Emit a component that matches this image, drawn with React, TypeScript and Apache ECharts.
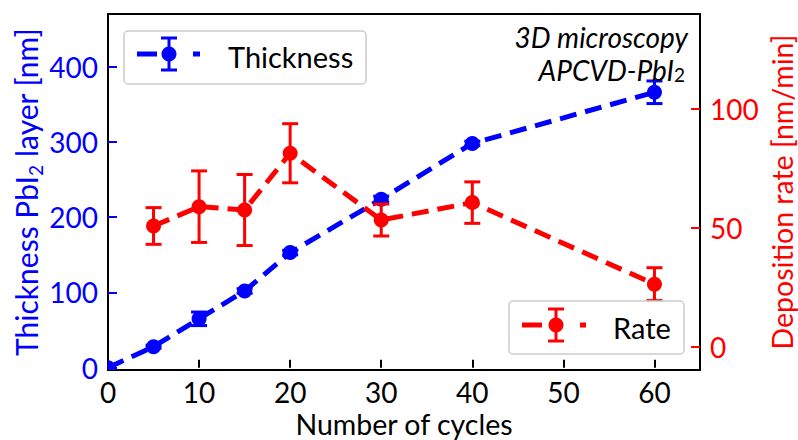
import React, { useEffect, useRef } from "react";
import * as echarts from "echarts";

const cycles = [0, 5, 10, 15, 20, 30, 40, 60];
const thickness = [0, 28, 65, 102, 153, 224, 298, 366];
const thicknessErr = [0, 2, 9, 3, 3, 4, 3, 15];
const rateCycles = [5, 10, 15, 20, 30, 40, 60];
const rate = [50.8, 58.9, 57.5, 81.3, 53.3, 60.6, 26.4];
const rateErr = [7.7, 15, 14.9, 12.4, 6.7, 8.7, 6.9];
const xTicks = [0, 10, 20, 30, 40, 50, 60];
const thicknessTicks = [0, 100, 200, 300, 400];
const rateTicks = [0, 50, 100];

const BLUE = "#0000ff";
const RED = "#ff0000";
const FONT = "Lato";

const errRender = (color: string) => (params: any, api: any) => {
  const x = api.value(0);
  const y = api.value(1);
  const lo = api.value(2);
  const hi = api.value(3);
  const p1 = api.coord([x, lo]);
  const p2 = api.coord([x, hi]);
  const pc = api.coord([x, y]);
  const hw = 8;
  const style = { stroke: color, lineWidth: 3 };
  return {
    type: "group",
    children: [
      { type: "line", shape: { x1: p1[0], y1: p1[1], x2: p2[0], y2: p2[1] }, style },
      { type: "line", shape: { x1: p1[0] - hw, y1: p1[1], x2: p1[0] + hw, y2: p1[1] }, style },
      { type: "line", shape: { x1: p2[0] - hw, y1: p2[1], x2: p2[0] + hw, y2: p2[1] }, style },
      { type: "circle", shape: { cx: pc[0], cy: pc[1], r: 7.5 }, style: { fill: color } },
    ],
  };
};

function legendItem(
  box: { x: number; y: number; w: number; h: number },
  cx: number,
  cy: number,
  leftDash: [number, number],
  rightDash: [number, number],
  halfBar: number,
  color: string,
  label: string,
  textX: number,
  textY: number
) {
  const ls = { stroke: color, lineWidth: 5 };
  const es = { stroke: color, lineWidth: 3 };
  return [
    {
      type: "rect",
      z: 100,
      shape: { x: box.x, y: box.y, width: box.w, height: box.h, r: 4 },
      style: { fill: "rgba(255,255,255,0.85)", stroke: "#cccccc", lineWidth: 1.5 },
    },
    { type: "line", z: 101, shape: { x1: leftDash[0], y1: cy, x2: leftDash[1], y2: cy }, style: ls },
    { type: "line", z: 101, shape: { x1: rightDash[0], y1: cy, x2: rightDash[1], y2: cy }, style: ls },
    { type: "line", z: 101, shape: { x1: cx, y1: cy - halfBar, x2: cx, y2: cy + halfBar }, style: es },
    { type: "line", z: 101, shape: { x1: cx - 8, y1: cy - halfBar, x2: cx + 8, y2: cy - halfBar }, style: es },
    { type: "line", z: 101, shape: { x1: cx - 8, y1: cy + halfBar, x2: cx + 8, y2: cy + halfBar }, style: es },
    { type: "circle", z: 102, shape: { cx, cy, r: 7.5 }, style: { fill: color } },
    {
      type: "text",
      z: 102,
      x: textX,
      y: textY,
      style: { text: label, fill: "#000", fontSize: 29, fontFamily: FONT, align: "left", verticalAlign: "middle" },
    },
  ];
}

export default function App() {
  const ref = useRef<HTMLDivElement>(null);
  useEffect(() => {
    if (!ref.current) return;
    const chart = echarts.init(ref.current, undefined, { renderer: "svg" });
    const thickData = cycles.map((c, i) => [c, thickness[i]]);
    const thickErrData = cycles.map((c, i) => [c, thickness[i], thickness[i] - thicknessErr[i], thickness[i] + thicknessErr[i]]);
    const rateData = rateCycles.map((c, i) => [c, rate[i]]);
    const rateErrData = rateCycles.map((c, i) => [c, rate[i], rate[i] - rateErr[i], rate[i] + rateErr[i]]);

    chart.setOption({
      animation: false,
      textStyle: { fontFamily: FONT },
      grid: {
        left: 108,
        right: 98,
        top: 14,
        bottom: 70,
        show: true,
        borderColor: "#000",
        borderWidth: 2,
        backgroundColor: "transparent",
        containLabel: false,
        outerBoundsMode: "none",
      },
      xAxis: {
        type: "value",
        min: 0,
        max: 65,
        axisLine: { show: false },
        splitLine: { show: false },
        axisTick: { inside: true, length: 8, customValues: xTicks, lineStyle: { color: "#000", width: 2 } },
        axisLabel: { customValues: xTicks, color: "#000", fontSize: 28, lineHeight: 26, fontFamily: FONT, margin: 9 },
        name: "Number of cycles",
        nameLocation: "middle",
        nameMoveOverlap: false,
        nameGap: 40,
        nameTextStyle: { color: "#000", fontSize: 28.5, lineHeight: 28, fontFamily: FONT },
      },
      yAxis: [
        {
          type: "value",
          position: "left",
          min: -3,
          max: 470,
          axisLine: { show: false },
          splitLine: { show: false },
          axisTick: { inside: true, length: 9, customValues: thicknessTicks, lineStyle: { color: BLUE, width: 2 } },
          axisLabel: { customValues: thicknessTicks, color: BLUE, fontSize: 28, fontFamily: FONT, margin: 10 },
          name: "{a|Thickness PbI}{s|2}{a| layer [nm]}",
          nameLocation: "middle",
          nameMoveOverlap: false,
          nameRotate: 90,
          nameGap: 63,
          nameTextStyle: {
            color: BLUE,
            fontSize: 30,
            fontFamily: FONT,
            rich: {
              a: { color: BLUE, fontSize: 30, fontFamily: FONT, lineHeight: 38 },
              s: { color: BLUE, fontSize: 19, fontFamily: FONT, lineHeight: 12, verticalAlign: "bottom" },
            },
          },
        },
        {
          type: "value",
          position: "right",
          min: -9.6,
          max: 139.7,
          axisLine: { show: false },
          splitLine: { show: false },
          axisTick: { inside: true, length: 9, customValues: rateTicks, lineStyle: { color: RED, width: 2 } },
          axisLabel: { customValues: rateTicks, color: RED, fontSize: 28, fontFamily: FONT, margin: 10 },
          name: "Deposition rate [nm/min]",
          nameLocation: "middle",
          nameMoveOverlap: false,
          nameRotate: 90,
          nameGap: 67,
          nameTextStyle: { color: RED, fontSize: 28.5, fontFamily: FONT },
        },
      ],
      series: [
        {
          type: "line",
          xAxisIndex: 0,
          yAxisIndex: 0,
          data: thickData,
          symbol: "none",
          lineStyle: { color: BLUE, width: 5, type: [17, 9] },
          z: 2,
        },
        {
          type: "custom",
          xAxisIndex: 0,
          yAxisIndex: 0,
          data: thickErrData,
          encode: { x: 0, y: [1, 2, 3] },
          renderItem: errRender(BLUE),
          clip: true,
          z: 3,
          silent: true,
        },
        {
          type: "line",
          xAxisIndex: 0,
          yAxisIndex: 1,
          data: rateData,
          symbol: "none",
          lineStyle: { color: RED, width: 5, type: [17, 9] },
          z: 4,
        },
        {
          type: "custom",
          xAxisIndex: 0,
          yAxisIndex: 1,
          data: rateErrData,
          encode: { x: 0, y: [1, 2, 3] },
          renderItem: errRender(RED),
          clip: true,
          z: 5,
          silent: true,
        },
      ],
      graphic: [
        ...legendItem({ x: 124, y: 31, w: 242, h: 53 }, 169, 54, [137, 157], [193, 200], 16, BLUE, "Thickness", 228, 56),
        ...legendItem({ x: 509, y: 301, w: 175, h: 53 }, 556, 325, [522, 542], [580, 586], 16, RED, "Rate", 613, 327),
        {
          type: "text",
          z: 102,
          x: 688,
          y: 37,
          style: {
            text: "3D microscopy",
            fill: "#000",
            fontSize: 28,
            lineHeight: 28,
            fontStyle: "italic",
            fontFamily: FONT,
            align: "right",
            verticalAlign: "middle",
          },
        },
        {
          type: "text",
          z: 102,
          x: 685,
          y: 70,
          style: {
            text: "{i|APCVD-PbI}{s|2}",
            fill: "#000",
            fontSize: 28,
            fontFamily: FONT,
            align: "right",
            verticalAlign: "middle",
            rich: {
              i: { fontSize: 28, fontStyle: "italic", fontFamily: FONT, fill: "#000", lineHeight: 28 },
              s: { fontSize: 19, fontFamily: FONT, fill: "#000", lineHeight: 1, verticalAlign: "bottom" },
            },
          },
        },
      ],
    });
    return () => chart.dispose();
  }, []);
  return <div ref={ref} style={{ width: 798, height: 440, position: "absolute", left: 0, top: 0 }} />;
}
